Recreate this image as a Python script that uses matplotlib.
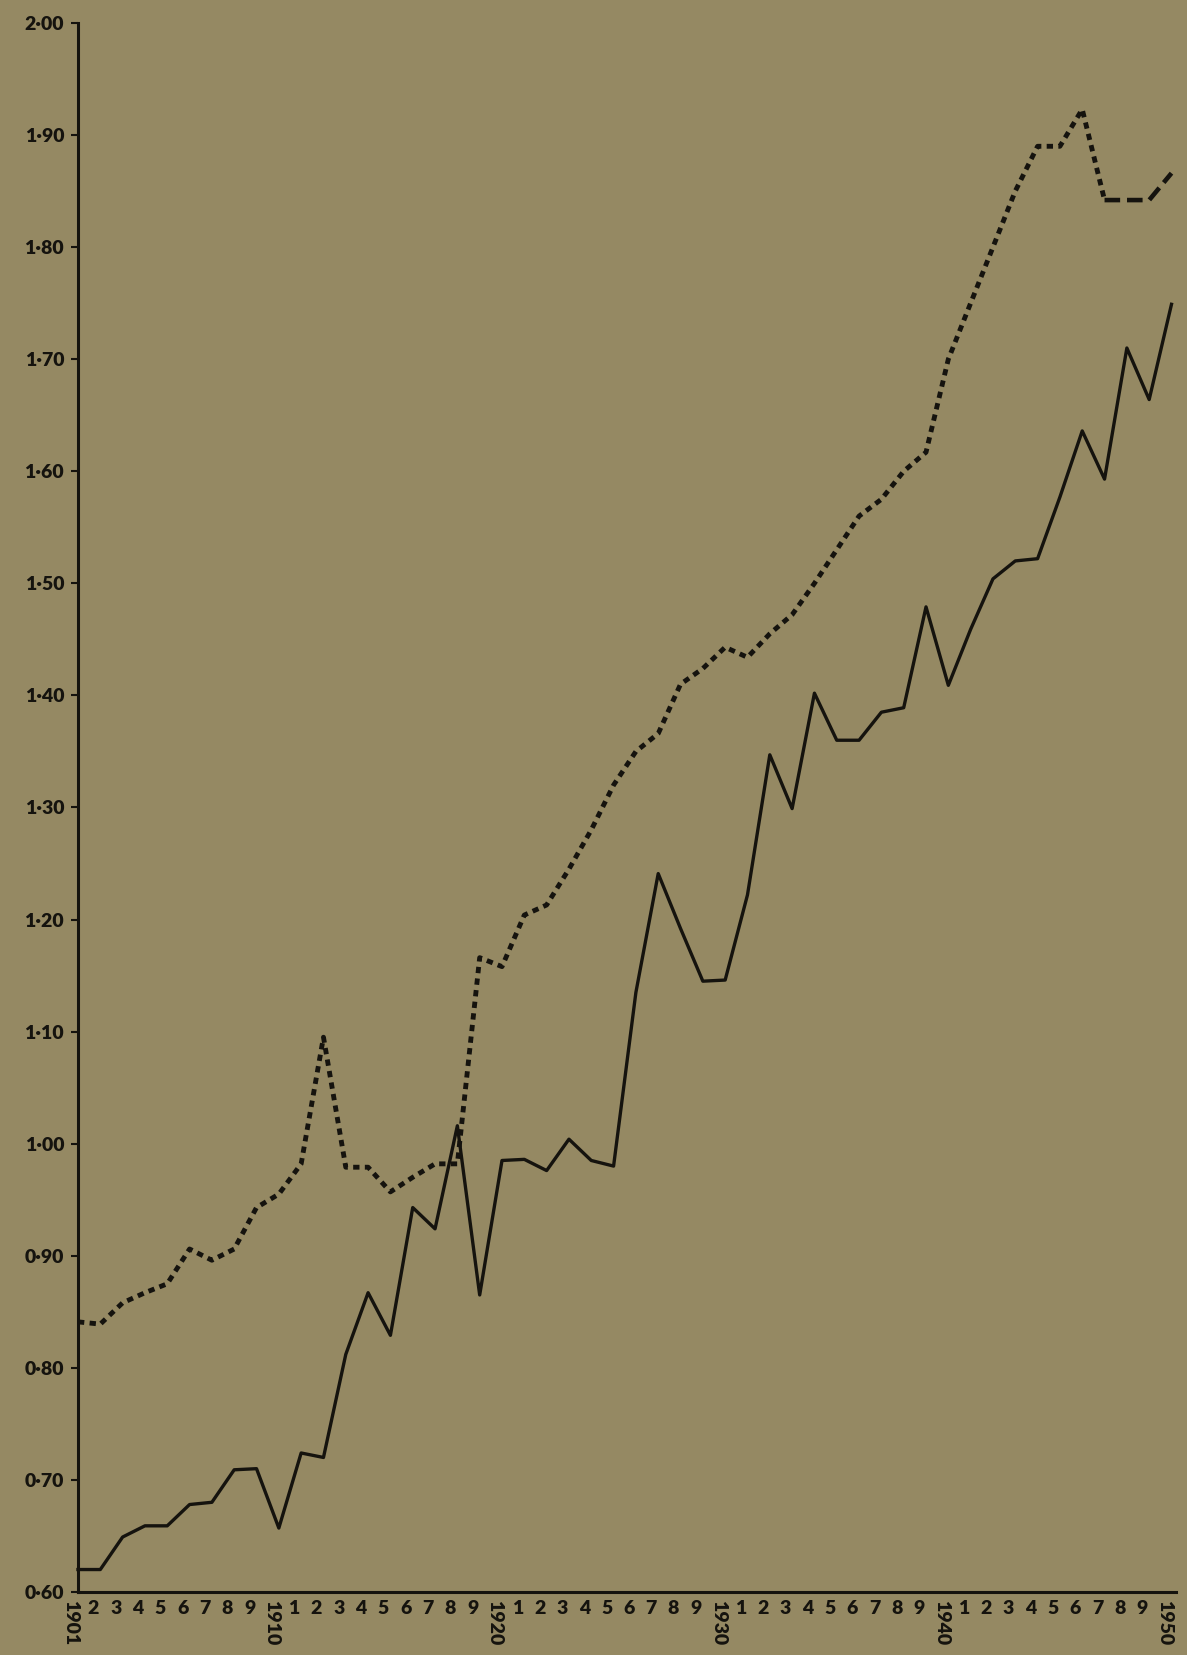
# death-rate style chart, 1901-1950, two series on a scanned-paper background
import matplotlib
matplotlib.use('Agg')
import matplotlib.pyplot as plt
from matplotlib.ticker import FixedLocator, FixedFormatter, FuncFormatter
from matplotlib.transforms import ScaledTranslation

years = list(range(1901, 1951))

solid_rate = [0.620, 0.620, 0.649, 0.659, 0.659, 0.678, 0.680, 0.709, 0.710, 0.657,
              0.724, 0.720, 0.812, 0.867, 0.829, 0.943, 0.924, 1.016, 0.865, 0.985,
              0.986, 0.976, 1.004, 0.985, 0.980, 1.135, 1.241, 1.192, 1.145, 1.146,
              1.222, 1.347, 1.299, 1.402, 1.360, 1.360, 1.385, 1.389, 1.479, 1.409,
              1.459, 1.504, 1.520, 1.522, 1.577, 1.636, 1.593, 1.710, 1.664, 1.749]

dotted_rate = [0.841, 0.839, 0.858, 0.867, 0.875, 0.906, 0.896, 0.906, 0.943, 0.955,
               0.982, 1.095, 0.979, 0.979, 0.957, 0.970, 0.982, 0.982, 1.166, 1.158,
               1.204, 1.213, 1.245, 1.280, 1.320, 1.350, 1.366, 1.410, 1.424, 1.443,
               1.434, 1.455, 1.472, 1.500, 1.530, 1.560, 1.575, 1.600, 1.617, 1.700,
               1.750, 1.800, 1.850, 1.890, 1.890, 1.923, 1.842, 1.842, 1.842, 1.866]

y_ticks = [0.60, 0.70, 0.80, 0.90, 1.00, 1.10, 1.20, 1.30, 1.40, 1.50,
           1.60, 1.70, 1.80, 1.90, 2.00]
decade_years = [1901, 1910, 1920, 1930, 1940, 1950]
x_labels = [str(y) if y in decade_years else str(y % 10) for y in years]

bg = '#958963'
ink = '#15130e'

fig = plt.figure(figsize=(11.87, 16.55), dpi=100, facecolor=bg)
ax = fig.add_axes([0.0657, 0.0381, 0.925, 0.948])
ax.set_facecolor(bg)

ax.plot(years, solid_rate, color=ink, lw=2.4, clip_on=False)
# short dashes for most of the series, longer ones over the last years
ax.plot(years[:47], dotted_rate[:47], color=ink, lw=3.5,
        linestyle=(0, (1.3, 1.1)), clip_on=False)
ax.plot(years[46:], dotted_rate[46:], color=ink, lw=3.3,
        linestyle=(0, (3.4, 1.5)), clip_on=False)

ax.set_xlim(1901, 1950.2)
ax.set_ylim(0.60, 2.00)

for side in ['top', 'right']:
    ax.spines[side].set_visible(False)
for side in ['left', 'bottom']:
    ax.spines[side].set_linewidth(2.2)
    ax.spines[side].set_color(ink)

ax.yaxis.set_major_locator(FixedLocator(y_ticks))
ax.yaxis.set_major_formatter(FuncFormatter(lambda v, p: f'{v:.2f}'.replace('.', '\u00b7')))
ax.tick_params(axis='y', direction='out', length=5, width=1.5, color=ink, pad=5,
               labelsize=14, labelcolor=ink)

ax.xaxis.set_major_locator(FixedLocator(years))
ax.xaxis.set_major_formatter(FixedFormatter(x_labels))
ax.tick_params(axis='x', length=0, pad=6, labelsize=14, labelcolor=ink)

shift = ScaledTranslation(-7 / 100, 0, fig.dpi_scale_trans)
for lab in ax.get_xticklabels():
    lab.set_transform(lab.get_transform() + shift)
    lab.set_fontfamily('Lato')
    lab.set_fontweight('heavy')
    if lab.get_text() in [str(y) for y in decade_years]:
        lab.set_rotation(270)
        lab.set_va('top')
for lab in ax.get_yticklabels():
    lab.set_fontfamily('Lato')
    lab.set_fontweight('heavy')

fig.savefig('out.png', dpi=100, facecolor=bg)
